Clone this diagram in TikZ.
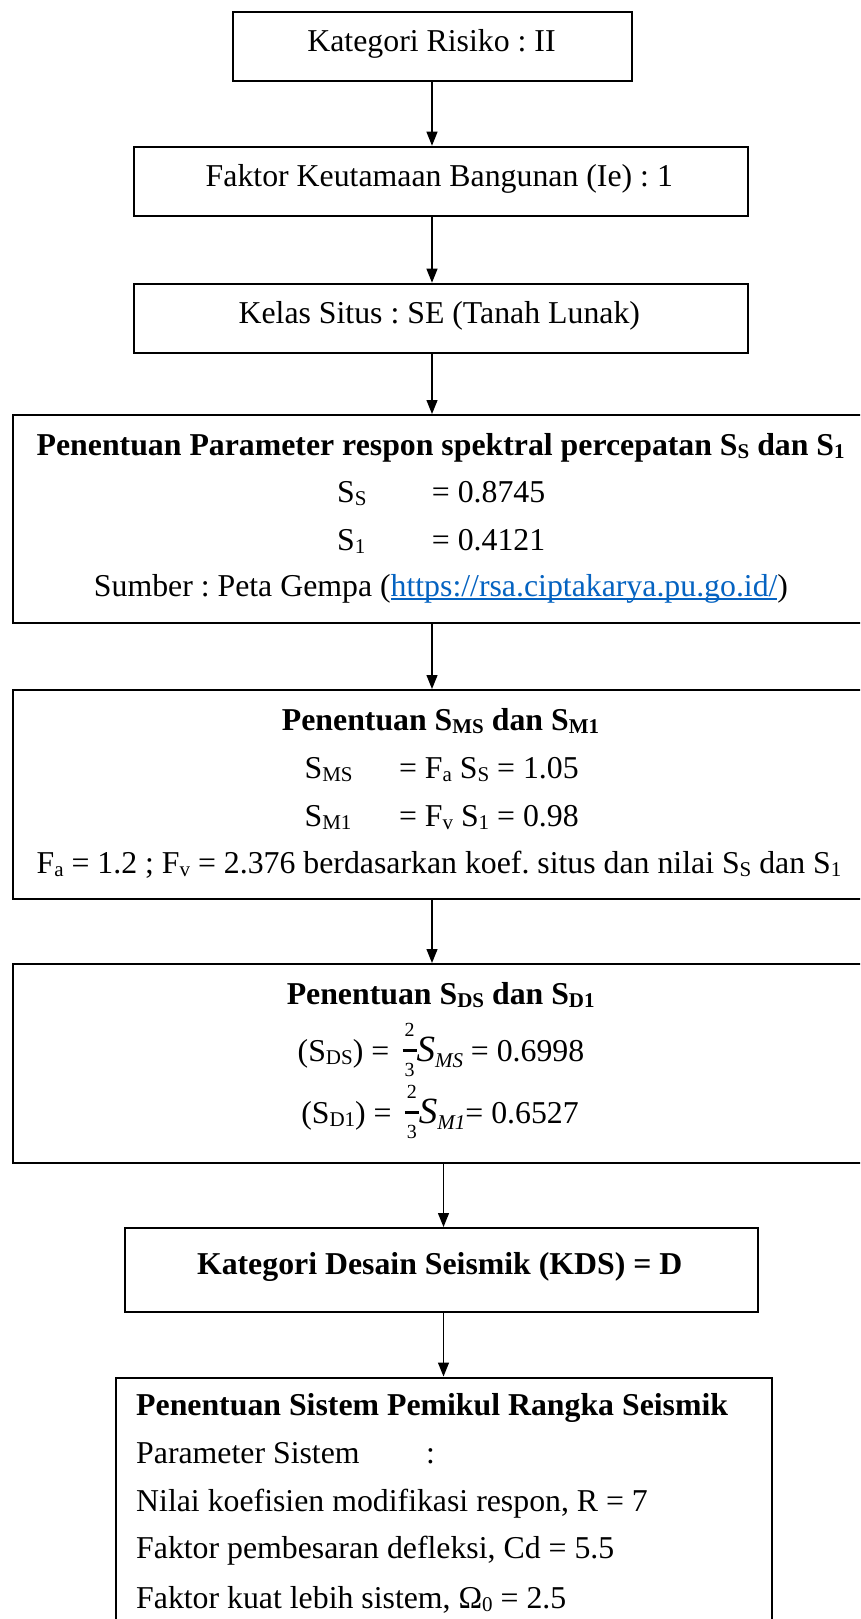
\RequirePackage{fix-cm}
\documentclass[tikz,border=0pt]{standalone}
\usepackage{fontspec}
\setmainfont{Liberation Serif}
\usetikzlibrary{arrows.meta}
\definecolor{linkblue}{HTML}{0563C1}
\newcommand\sbs[1]{\raisebox{-3pt}{\fontsize{21}{21}\selectfont #1}}
\newcommand\ulk[1]{\setbox0\hbox{#1}\rlap{\rule[-3pt]{\wd0}{1.6pt}}\box0}
\newcommand\twothirds{\,\raisebox{-15.7pt}{\vbox{\hbox to 14pt{\hss\fontsize{20}{20}\selectfont 2\hss}\kern13pt\hrule height 3pt\kern11pt\hbox to 14pt{\hss\fontsize{20}{20}\selectfont 3\hss}}}}
\newcommand\mathS[1]{{\fontsize{37}{37}\selectfont\itshape S}\raisebox{-6pt}{\fontsize{21}{21}\selectfont\itshape #1}}
\begin{document}
\frenchspacing
\begin{tikzpicture}[x=1pt,y=-1pt,
  every node/.style={font=\fontsize{31.8}{38}\selectfont},
  box/.style={draw, line width=2pt, rectangle, inner sep=0pt, anchor=north west},
  txt/.style={inner sep=0pt, anchor=base},
  btxt/.style={inner sep=0pt, anchor=base, font=\fontsize{31.8}{38}\selectfont\bfseries},
  ltxt/.style={inner sep=0pt, anchor=base west},
  arr/.style={line width=1.2pt, -{Triangle[length=14pt,width=11pt]}}]
\useasboundingbox (0,0) rectangle (860,1619);
\clip (0,0) rectangle (860,1619);
\fill[white] (0,0) rectangle (860,1619);

% boxes
\node[box, minimum width=399.1pt, minimum height=69.3pt] (b1) at (232.3,10.7) {};
\node[box, minimum width=613.9pt, minimum height=69.3pt] (b2) at (132.7,145.7) {};
\node[box, minimum width=613.9pt, minimum height=69.3pt] (b3) at (132.7,282.7) {};
\node[box, minimum width=857pt, minimum height=207.7pt] (b4) at (12,414) {};
\node[box, minimum width=857pt, minimum height=209pt] (b5) at (12,689) {};
\node[box, minimum width=857pt, minimum height=199pt] (b6) at (12,963) {};
\node[box, minimum width=632.7pt, minimum height=83.7pt] (b7) at (124,1227) {};
\node[box, minimum width=656.3pt, minimum height=270pt] (b8) at (115,1376.5) {};

% texts
\node[txt] (t1) at (431.5,51.7) {Kategori Risiko : II};
\node[txt] (t2) at (439.3,186.7) {Faktor Keutamaan Bangunan (Ie) : 1};
\node[txt] (t3) at (439.3,323.3) {Kelas Situs : SE (Tanah Lunak)};

\node[btxt] (t4a) at (440.7,455) {Penentuan Parameter respon spektral percepatan S\sbs{S} dan S\sbs{1}};
\node[ltxt] (t4b) at (337,502.5) {\makebox[94.7pt][l]{S\sbs{S}}= 0.8745};
\node[ltxt] (t4c) at (337,550) {\makebox[94.7pt][l]{S\sbs{1}}= 0.4121};
\node[txt] (t4d) at (441,596.7) {Sumber : Peta Gempa (\textcolor{linkblue}{\ulk{https://rsa.ciptakarya.pu.go.id/}})};

\node[btxt] (t5a) at (440.5,730) {Penentuan S\sbs{MS} dan S\sbs{M1}};
\node[ltxt] (t5b) at (304.4,778) {\makebox[94.4pt][l]{S\sbs{MS}}= F\sbs{a} S\sbs{S} = 1.05};
\node[ltxt] (t5c) at (304.4,826) {\makebox[94.4pt][l]{S\sbs{M1}}= F\sbs{v} S\sbs{1} = 0.98};
\node[txt] (t5d) at (439,873) {F\sbs{a} = 1.2 ; F\sbs{v} = 2.376 berdasarkan koef. situs dan nilai S\sbs{S} dan S\sbs{1}};

\node[btxt] (t6a) at (440.7,1004) {Penentuan S\sbs{DS} dan S\sbs{D1}};
\node[txt] (t6b) at (441,1061) {(S\sbs{DS}) = \twothirds\mathS{MS} = 0.6998};
\node[txt] (t6c) at (440,1123) {(S\sbs{D1}) = \twothirds\mathS{M1}= 0.6527};

\node[btxt] (t7) at (439.7,1274) {Kategori Desain Seismik (KDS) = D};

\node[ltxt, font=\fontsize{31.8}{38}\selectfont\bfseries] (t8a) at (136,1415.7) {Penentuan Sistem Pemikul Rangka Seismik};
\node[ltxt] (t8b) at (136,1463) {\makebox[290pt][l]{Parameter Sistem}:};
\node[ltxt] (t8c) at (136,1511.7) {Nilai koefisien modifikasi respon, R = 7};
\node[ltxt] (t8d) at (136,1558) {Faktor pembesaran defleksi, Cd = 5.5};
\node[ltxt] (t8e) at (136,1608) {Faktor kuat lebih sistem, Ω\sbs{0} = 2.5};

% connectors
\coordinate (xa) at (432,0);
\coordinate (xb) at (443.5,0);
\draw[arr] (b1.south -| xa) -- (b2.north -| xa);
\draw[arr] (b2.south -| xa) -- (b3.north -| xa);
\draw[arr] (b3.south -| xa) -- (b4.north -| xa);
\draw[arr] (b4.south -| xa) -- (b5.north -| xa);
\draw[arr] (b5.south -| xa) -- (b6.north -| xa);
\draw[arr] (b6.south -| xb) -- (b7.north -| xb);
\draw[arr] (b7.south -| xb) -- (b8.north -| xb);
\end{tikzpicture}
\end{document}
